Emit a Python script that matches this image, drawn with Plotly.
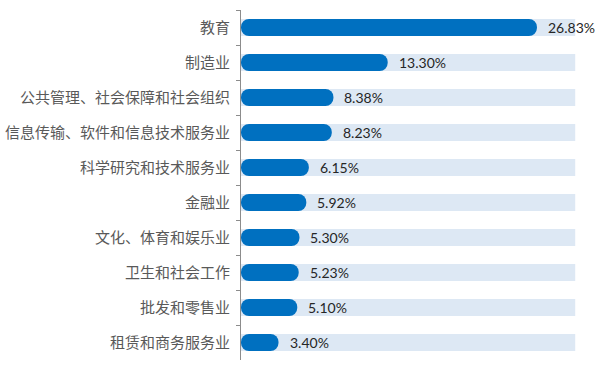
import plotly.graph_objects as go

categories = ["教育", "制造业", "公共管理、社会保障和社会组织", "信息传输、软件和信息技术服务业",
              "科学研究和技术服务业", "金融业", "文化、体育和娱乐业", "卫生和社会工作",
              "批发和零售业", "租赁和商务服务业"]
values = [26.83, 13.30, 8.38, 8.23, 6.15, 5.92, 5.30, 5.23, 5.10, 3.40]
value_labels = ["26.83%", "13.30%", "8.38%", "8.23%", "6.15%", "5.92%", "5.30%", "5.23%", "5.10%", "3.40%"]
track_max = 30.3

DARK = "#0070C0"
LIGHT = "#DDE8F4"
BAR_W = 0.49
RADIUS = 8

fig = go.Figure()
# background track
fig.add_trace(go.Bar(y=categories, x=[track_max] * len(values),
                     orientation="h", width=BAR_W, marker=dict(color=LIGHT, line=dict(width=0)),
                     hoverinfo="skip", showlegend=False))
# value bars
fig.add_trace(go.Bar(y=categories, x=values, base=[0.001] * len(values),
                     orientation="h", width=BAR_W,
                     marker=dict(color=DARK, line=dict(width=0), cornerradius=RADIUS),
                     showlegend=False))

for c, v, t in zip(categories, values, value_labels):
    fig.add_annotation(x=v, y=c, text=t, showarrow=False, xanchor="left", yanchor="middle",
                       xshift=9, font=dict(family="Lato, sans-serif", size=14, color="#262626"))

fig.update_layout(
    width=604, height=369,
    margin=dict(l=241, r=0, t=10, b=9),
    barmode="overlay",
    plot_bgcolor="white", paper_bgcolor="white",
    xaxis=dict(range=[0, 363 / 11.03], visible=False, fixedrange=True),
    yaxis=dict(type="category", autorange="reversed", showline=True, linecolor="#8C8C8C", linewidth=1,
               ticks="outside", ticklen=4, tickcolor="#8C8C8C", tickson="boundaries",
               showgrid=False, ticklabelstandoff=7, fixedrange=True,
               tickfont=dict(family="Noto Sans CJK SC", size=15, color="#595959")),
)

fig.write_html("out.html", config={"displayModeBar": False},
               post_script="document.body.style.margin='0';")
